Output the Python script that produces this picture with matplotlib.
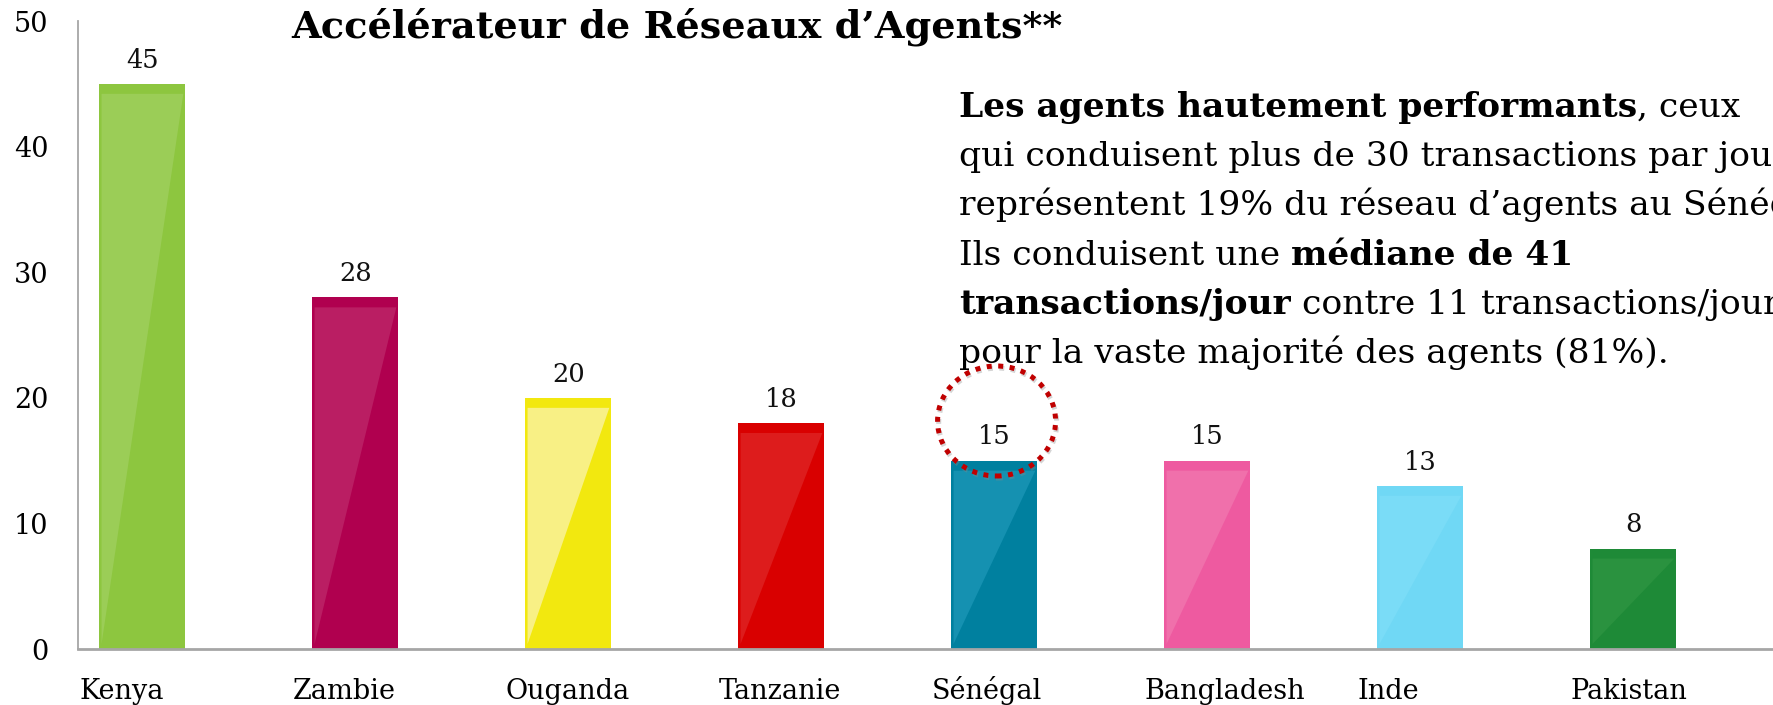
import numpy as np
import matplotlib
matplotlib.use("Agg")
import matplotlib.pyplot as plt
from matplotlib.patches import Ellipse
from matplotlib.transforms import ScaledTranslation
import matplotlib.patheffects as pe

# data
countries = ['Kenya', 'Zambie', 'Ouganda', 'Tanzanie', 'Sénégal', 'Bangladesh', 'Inde', 'Pakistan']
values = [45, 28, 20, 18, 15, 15, 13, 8]
bar_colors = ['#8DC63F', '#B0004F', '#F2E80F', '#D90000', '#00809F', '#EE5AA0', '#70D8F5', '#1E8A37']
gloss_colors = ['#9BCD57', '#BA1E63', '#F8F085', '#DD1C1C', '#1591B1', '#F070AB', '#7ADCF7', '#2A923F']
yticks = [0, 10, 20, 30, 40, 50]

title = 'Accélérateur de Réseaux d\u2019Agents**'
note_lines = [
    [('Les agents hautement performants', 'bold'), (', ceux', 'normal')],
    [('qui conduisent plus de 30 transactions par jour', 'normal')],
    [('représentent 19% du réseau d\u2019agents au Sénégal.', 'normal')],
    [('Ils conduisent une ', 'normal'), ('médiane de 41', 'bold')],
    [('transactions/jour', 'bold'), (' contre 11 transactions/jour', 'normal')],
    [('pour la vaste majorité des agents (81%).', 'normal')],
]

plt.rcParams['font.family'] = ['DejaVu Serif']

W, H, DPI = 1773, 705, 100
fig = plt.figure(figsize=(W / DPI, H / DPI), dpi=DPI)
ax = fig.add_axes([77.7 / W, 1 - 649 / H, 1 - 77.7 / W, (649 - 21) / H])

x = np.arange(len(countries))
bars = ax.bar(x, values, width=0.404, color=bar_colors, zorder=2)

# glossy lighter triangle on each bar
for b, gc in zip(bars, gloss_colors):
    x0, x1 = b.get_x(), b.get_x() + b.get_width()
    top = b.get_height()
    strip = 0.8
    ax.fill([x0 + 0.01, x1 - 0.01, x0 + 0.01], [top - strip, top - strip, 0.4],
            color=gc, lw=0, zorder=3)

for xi, v in zip(x, values):
    ax.annotate(str(v), (xi, v), xytext=(0, 17), textcoords='offset points',
                ha='center', va='center', fontsize=18.5, color='#111111')

ax.set_xlim(-0.304, -0.304 + (W - 77.7) / 213)
ax.set_ylim(0, 50)
ax.set_yticks(yticks)
ax.set_yticklabels([str(t) for t in yticks])
ax.set_xticks(x)
ax.set_xticklabels(countries)
ax.tick_params(axis='y', length=0, pad=21, labelsize=19.5)
ax.tick_params(axis='x', length=0, pad=36, labelsize=19.5)
for lab in ax.get_xticklabels():
    lab.set_ha('left')
    lab.set_va('baseline')
    lab.set_transform(lab.get_transform() + ScaledTranslation(-63 / DPI, 0, fig.dpi_scale_trans))

for s in ['top', 'right']:
    ax.spines[s].set_visible(False)
ax.spines['left'].set_color('#A6A6A6')
ax.spines['left'].set_linewidth(1.3)
ax.spines['bottom'].set_color('#A6A6A6')
ax.spines['bottom'].set_linewidth(2)

# dotted circle around the Senegal value
circ = Ellipse((4.01, (649 - 421) / 12.56), width=118 / 213, height=110 / 12.56,
               fill=False, edgecolor='#C00000', lw=3.6, linestyle=(0, (1, 1.3)),
               zorder=5, clip_on=False)
circ.set_path_effects([pe.SimpleLineShadow(offset=(0.8, -1.5), shadow_color='#888888', alpha=0.35),
                       pe.Normal()])
ax.add_patch(circ)

# title
fig.text(291 / W, 1 - 38 / H, title, fontsize=27.5, fontweight='bold', va='baseline', ha='left')

# annotation block with mixed bold / regular runs
fig.canvas.draw()
renderer = fig.canvas.get_renderer()
for i, line in enumerate(note_lines):
    y = 1 - (117 + 49.2 * i) / H
    xpos = 959 / W
    for seg, weight in line:
        t = fig.text(xpos, y, seg, fontsize=24.8, fontweight=weight, va='baseline', ha='left')
        bb = t.get_window_extent(renderer)
        xpos = bb.x1 / W

fig.savefig('out.png', dpi=DPI)
